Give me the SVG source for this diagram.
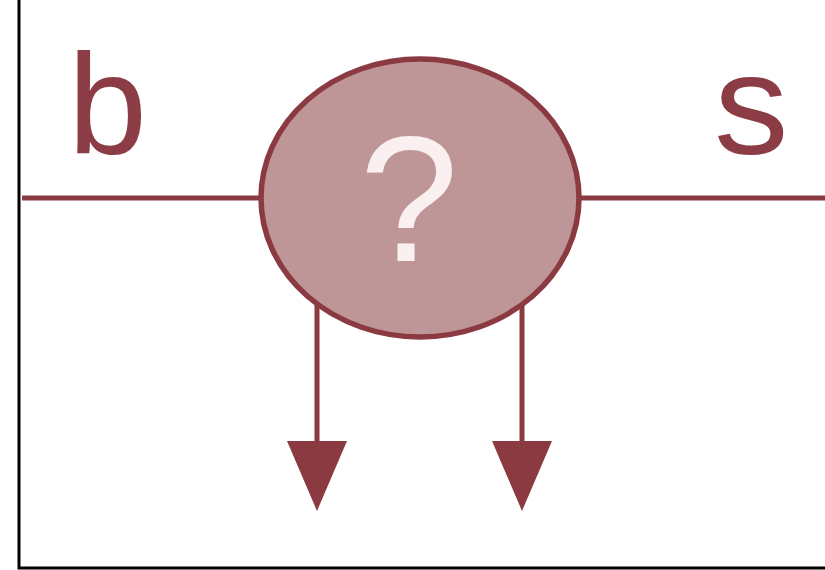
<svg xmlns="http://www.w3.org/2000/svg" width="825" height="570" viewBox="0 0 825 570">
  <style>
    .wire { stroke: #8b3a42; stroke-width: 5; fill: none; }
    .flow { stroke: #8b3a42; stroke-width: 5; fill: none; marker-end: url(#head); }
    .label { font-family: "Liberation Sans", Arial, sans-serif; fill: #8b3c44; font-size: 142px; }
    .mark { font-family: "Liberation Sans", Arial, sans-serif; fill: #fbf0f0; font-size: 178px; text-anchor: middle; }
  </style>
  <defs>
    <!-- triangular arrowhead, base at the line end, tip 70px further on -->
    <marker id="head" viewBox="0 0 70 60" refX="0" refY="30" markerUnits="userSpaceOnUse" markerWidth="70" markerHeight="60" orient="auto">
      <path d="M0,0 L70,30 L0,60 Z" fill="#8b3a42"/>
    </marker>
  </defs>
  <rect width="825" height="570" fill="#ffffff"/>
  <!-- frame -->
  <path d="M19,0 V568 H825" fill="none" stroke="#000000" stroke-width="3"/>
  <g id="connectors">
    <line class="wire" x1="22" y1="198" x2="262" y2="198"/>
    <line class="wire" x1="578" y1="198" x2="825" y2="198"/>
    <path class="flow" d="M317,305 V441"/>
    <path class="flow" d="M522,305 V441"/>
  </g>
  <g id="node-unknown">
    <ellipse cx="420" cy="198" rx="159" ry="139" fill="#bf9698" stroke="#8b3a42" stroke-width="5.5"/>
    <text class="mark" x="409" y="261">?</text>
  </g>
  <g id="label-b">
    <text class="label" x="68" y="154">b</text>
  </g>
  <g id="label-s">
    <text class="label" x="714" y="154" transform="translate(714 0) scale(1.05 1) translate(-714 0)">s</text>
  </g>
</svg>
